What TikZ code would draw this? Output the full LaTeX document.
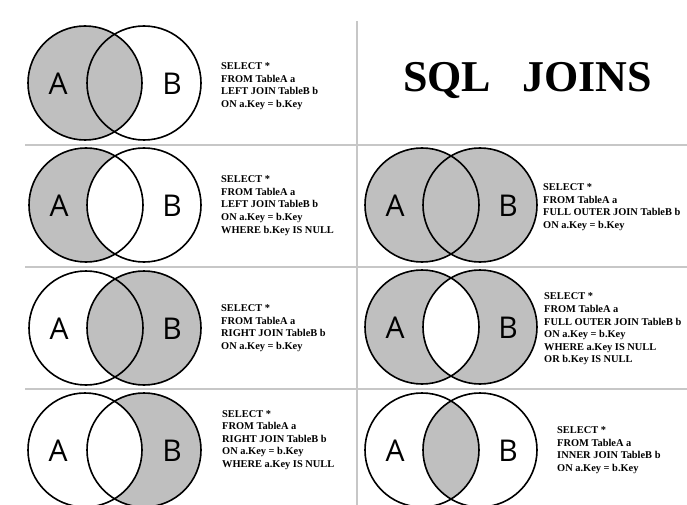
\documentclass[tikz,border=0pt]{standalone}
\usepackage{fontspec}
\setmainfont{Liberation Serif}
\newfontfamily\vennfont{Open Sans}
\usepackage{tikz}

\begin{document}
\begin{tikzpicture}[
  x=1pt, y=-1pt,
  venn/.style={circle, draw, line width=1.6pt, minimum size=114pt, inner sep=0pt},
  setlabel/.style={font=\vennfont\fontsize{30}{30}\selectfont, inner sep=0pt},
  query/.style={font=\bfseries\fontsize{10.4}{12.6}\selectfont, align=left, anchor=west, inner sep=0pt},
  rule/.style={draw=black!22, line width=2pt},
  shade/.style={fill=black!25}
  ]

\useasboundingbox (0,0) rectangle (687,505);
\clip (0,0) rectangle (687,505);

\draw[rule] (357,21) -- (357,505);
\draw[rule] (25,145) -- (687,145);
\draw[rule] (25,267) -- (687,267);
\draw[rule] (25,389) -- (687,389);

\node[font=\bfseries\fontsize{44}{44}\selectfont, anchor=base, inner sep=0pt] (title) at (527.5,92) {SQL\hspace{31pt}JOINS};

% left join
\fill[shade] (85,83) circle (57);
\node[venn] (a1) at (85,83) {};
\node[venn] (b1) at (144,83) {};
\node[setlabel] (la1) at (58,84) {A};
\node[setlabel] (lb1) at (172,84) {B};
\node[query] (q1) at (221,86) {SELECT *\\FROM TableA a\\LEFT JOIN TableB b\\ON a.Key = b.Key};

% left join, b.Key null
\begin{scope}
  \clip (86,205) circle (57);
  \fill[shade, even odd rule] (86,205) circle (57) (144,205) circle (57);
\end{scope}
\node[venn] (a2) at (86,205) {};
\node[venn] (b2) at (144,205) {};
\node[setlabel] (la2) at (59,206) {A};
\node[setlabel] (lb2) at (172,206) {B};
\node[query] (q2) at (221,205.5) {SELECT *\\FROM TableA a\\LEFT JOIN TableB b\\ON a.Key = b.Key\\WHERE b.Key IS NULL};

% right join
\fill[shade] (144,328) circle (57);
\node[venn] (a3) at (86,328) {};
\node[venn] (b3) at (144,328) {};
\node[setlabel] (la3) at (59,329) {A};
\node[setlabel] (lb3) at (172,329) {B};
\node[query] (q3) at (221,328) {SELECT *\\FROM TableA a\\RIGHT JOIN TableB b\\ON a.Key = b.Key};

% right join, a.Key null
\begin{scope}
  \clip (144,450) circle (57);
  \fill[shade, even odd rule] (85,450) circle (57) (144,450) circle (57);
\end{scope}
\node[venn] (a4) at (85,450) {};
\node[venn] (b4) at (144,450) {};
\node[setlabel] (la4) at (58,451) {A};
\node[setlabel] (lb4) at (172,451) {B};
\node[query] (q4) at (222,440) {SELECT *\\FROM TableA a\\RIGHT JOIN TableB b\\ON a.Key = b.Key\\WHERE a.Key IS NULL};

% full outer join
\fill[shade] (422,205) circle (57) (480,205) circle (57);
\node[venn] (a5) at (422,205) {};
\node[venn] (b5) at (480,205) {};
\node[setlabel] (la5) at (395,206) {A};
\node[setlabel] (lb5) at (508,206) {B};
\node[query] (q5) at (543,207) {SELECT *\\FROM TableA a\\FULL OUTER JOIN TableB b\\ON a.Key = b.Key};

% full outer join, either null
\fill[shade, even odd rule] (422,327) circle (57) (480,327) circle (57);
\node[venn] (a6) at (422,327) {};
\node[venn] (b6) at (480,327) {};
\node[setlabel] (la6) at (395,328) {A};
\node[setlabel] (lb6) at (508,328) {B};
\node[query] (q6) at (544,329) {SELECT *\\FROM TableA a\\FULL OUTER JOIN TableB b\\ON a.Key = b.Key\\WHERE a.Key IS NULL\\OR b.Key IS NULL};

% inner join
\begin{scope}
  \clip (422,450) circle (57);
  \fill[shade] (480,450) circle (57);
\end{scope}
\node[venn] (a7) at (422,450) {};
\node[venn] (b7) at (480,450) {};
\node[setlabel] (la7) at (395,451) {A};
\node[setlabel] (lb7) at (508,451) {B};
\node[query] (q7) at (557,450) {SELECT *\\FROM TableA a\\INNER JOIN TableB b\\ON a.Key = b.Key};

\end{tikzpicture}
\end{document}
